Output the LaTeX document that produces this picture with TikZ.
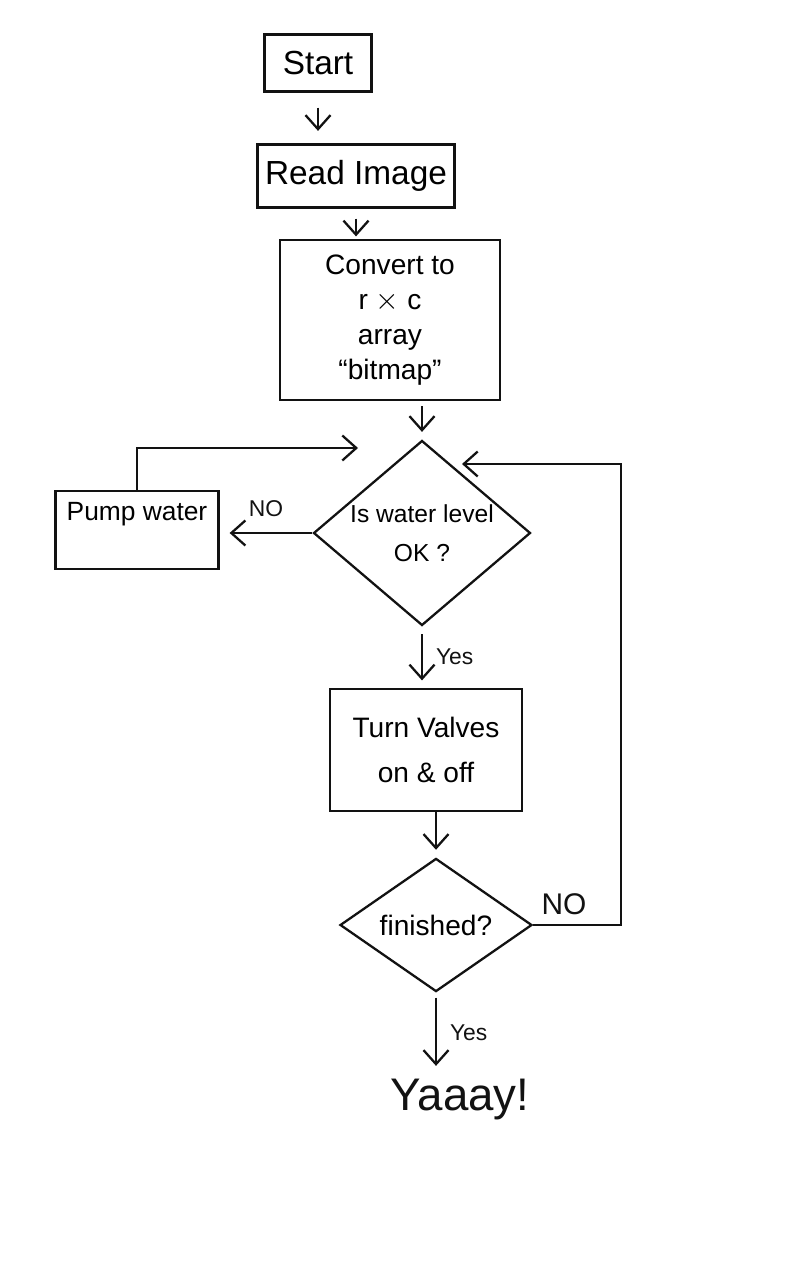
\documentclass[tikz,border=0pt]{standalone}
\usepackage{fontspec}
\setmainfont{Liberation Sans}
\usepackage{xcolor}
\usetikzlibrary{shapes.geometric,arrows.meta}
\definecolor{SketchInk}{RGB}{18, 18, 18}
\definecolor{SketchPaper}{RGB}{255, 255, 255}

\tikzset{
  procbox/.style={draw=SketchInk, line width=1.3pt, align=center, inner sep=4pt},
  decision/.style={draw=SketchInk, line width=1.3pt, diamond, align=center, inner sep=0pt},
  flowarrow/.style={draw=SketchInk, line width=1.3pt, -{Straight Barb[length=2.8mm,width=5mm]}},
  flowlabel/.style={text=SketchInk, font=\fontsize{13}{15}\selectfont}
}

\begin{document}
\begin{tikzpicture}[x=0.02cm, y=-0.02cm]
    \fill[SketchPaper] (0,0) rectangle (800,1280);
    \useasboundingbox (0,0) rectangle (800,1280);

    \node[procbox, minimum width=2.14cm, minimum height=1.14cm, font=\fontsize{19}{22}\selectfont] (start) at (318,63) {Start};
    \node[procbox, minimum width=3.94cm, minimum height=1.26cm, font=\fontsize{19}{22}\selectfont] (read) at (356,176) {Read Image};
    \node[procbox, minimum width=4.4cm, minimum height=3.2cm, font=\fontsize{16}{20}\selectfont] (conv) at (390,320) {Convert to\\ r $\times$ c\\ array\\ ``bitmap''};
    \node[decision, aspect=1.17, minimum width=4.34cm, minimum height=3.7cm, font=\fontsize{14}{22}\selectfont] (wlevel) at (422,533) {Is water level\\ OK ?};
    \node[procbox, minimum width=3.26cm, minimum height=1.56cm, text depth=0.75cm, font=\fontsize{15}{18}\selectfont] (pump) at (137,530) {Pump water};
    \node[procbox, minimum width=3.84cm, minimum height=2.44cm, font=\fontsize{16}{26}\selectfont] (valves) at (426,750) {Turn Valves\\ on \& off};
    \node[decision, minimum width=3.84cm, minimum height=2.4cm, font=\fontsize{16}{18}\selectfont] (finished) at (436,925) {finished?};
    \node[text=SketchInk, font=\fontsize{26}{30}\selectfont] (yay) at (460,1100) {Yaaay!};

    \coordinate (pumpret) at (358,448);
    \coordinate (loopin) at (462,464);

    \draw[flowarrow, shorten <=0.3cm, shorten >=0.25cm] (start.south) -- (start.south |- read.north);
    \draw[flowarrow, shorten <=0.2cm, shorten >=0.05cm] (read.south) -- (read.south |- conv.north);
    \draw[flowarrow, shorten <=0.1cm, shorten >=0.15cm] (wlevel.north |- conv.south) -- (wlevel.north);
    \draw[flowarrow, shorten >=0.2cm] (wlevel.west) -- (wlevel.west -| pump.east) node[flowlabel, pos=0.5, above=5pt] {NO};
    \draw[flowarrow] (pump.north) |- (pumpret);
    \draw[flowarrow, shorten <=0.15cm, shorten >=0.15cm] (wlevel.south) -- (wlevel.south |- valves.north) node[flowlabel, midway, right=4pt] {Yes};
    \draw[flowarrow, shorten >=0.15cm] (finished.north |- valves.south) -- (finished.north);
    \draw[flowarrow] (finished.east) -- ++(88,0) node[flowlabel, pos=0.35, above=2pt, font=\fontsize{17}{20}\selectfont] {NO} |- (loopin);
    \draw[flowarrow, shorten <=0.1cm, shorten >=0.15cm] (finished.south) -- (finished.south |- yay.north) node[flowlabel, midway, right=4pt] {Yes};
  \end{tikzpicture}
\end{document}
